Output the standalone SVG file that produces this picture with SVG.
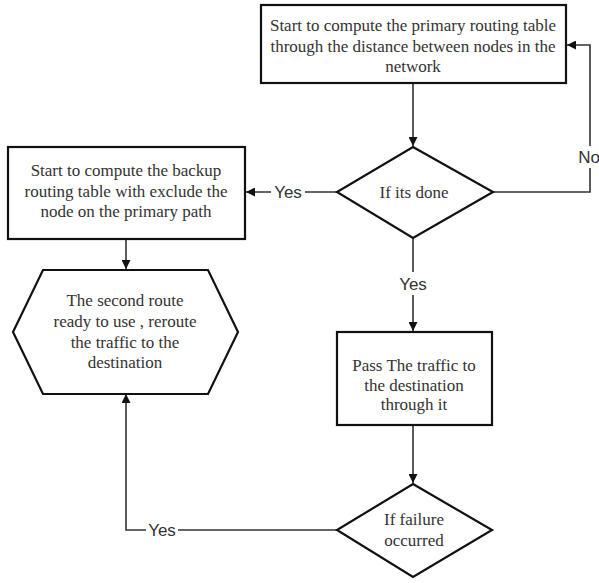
<svg xmlns="http://www.w3.org/2000/svg" width="599" height="583" viewBox="0 0 599 583">
<style>
.shape{fill:#fff;stroke:#111;stroke-width:2.2}
.conn{fill:none;stroke:#333;stroke-width:1.6}
.t{font-family:"Liberation Serif","Times New Roman",serif;font-size:17px;fill:#333;text-anchor:middle;dominant-baseline:central}
.lbl{font-family:"Liberation Sans",Arial,sans-serif;font-size:17px;fill:#333;text-anchor:middle;dominant-baseline:central}
</style>
<defs>
<marker id="arr" viewBox="0 0 10 10" refX="10" refY="5" markerWidth="9" markerHeight="9" markerUnits="userSpaceOnUse" orient="auto">
<path d="M0,0 L10,5 L0,10 z" fill="#111"/>
</marker>
</defs>
<rect width="599" height="583" fill="#fff"/>
<g id="connectors">
<path class="conn" d="M413,83 V146" marker-end="url(#arr)"/>
<path class="conn" d="M493,192 H590 V168 M590,146 V45 H567" marker-end="url(#arr)"/>
<path class="conn" d="M337,192 H305 M271,192 H246" marker-end="url(#arr)"/>
<path class="conn" d="M126,239 V269" marker-end="url(#arr)"/>
<path class="conn" d="M413,238 V272 M413,295 V331" marker-end="url(#arr)"/>
<path class="conn" d="M413,425 V483" marker-end="url(#arr)"/>
<path class="conn" d="M337,530 H178 M146,530 H126 V394" marker-end="url(#arr)"/>
<text class="lbl" x="589" y="157">No</text>
<text class="lbl" x="288" y="192">Yes</text>
<text class="lbl" x="413" y="284">Yes</text>
<text class="lbl" x="162" y="530">Yes</text>
</g>
<g id="primary">
<rect class="shape" x="261" y="5" width="305" height="78"/>
<text class="t" x="413" y="25">Start to compute the primary routing table</text>
<text class="t" x="413" y="46">through the distance between nodes in the</text>
<text class="t" x="413" y="66">network</text>
</g>
<g id="done">
<polygon class="shape" points="413,147 493,192 413,238 337,192"/>
<text class="t" x="414" y="192">If its done</text>
</g>
<g id="backup">
<rect class="shape" x="8" y="147" width="237" height="92"/>
<text class="t" x="126" y="170">Start to compute the backup</text>
<text class="t" x="126" y="191">routing table with exclude the</text>
<text class="t" x="126" y="211">node on the primary path</text>
</g>
<g id="second">
<polygon class="shape" points="43,270 208,270 238,332 208,394 43,394 13,332"/>
<text class="t" x="125" y="300">The second route</text>
<text class="t" x="125" y="321">ready to use , reroute</text>
<text class="t" x="125" y="342">the traffic to the</text>
<text class="t" x="125" y="362">destination</text>
</g>
<g id="pass">
<rect class="shape" x="337" y="332" width="155" height="93"/>
<text class="t" x="414" y="365">Pass The traffic to</text>
<text class="t" x="414" y="385">the destination</text>
<text class="t" x="414" y="404">through it</text>
</g>
<g id="failure">
<polygon class="shape" points="413,484 492,530 413,577 337,530"/>
<text class="t" x="414" y="519">If failure</text>
<text class="t" x="414" y="540">occurred</text>
</g>
</svg>
